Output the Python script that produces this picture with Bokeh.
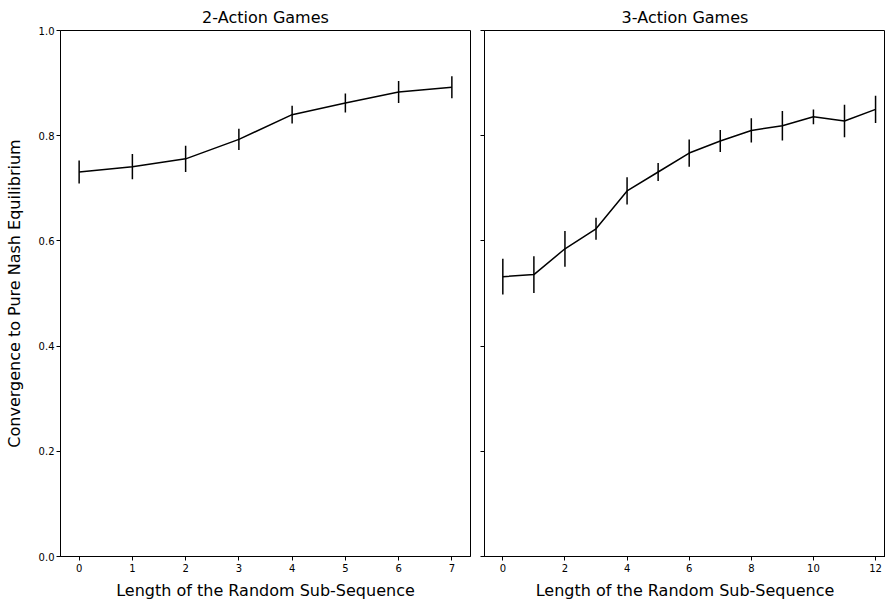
from bokeh.plotting import figure
from bokeh.layouts import row
from bokeh.models import Range1d, FixedTicker, CustomJSTickFormatter
from bokeh.embed import file_html
from bokeh.resources import INLINE

# ---- data ----
x2 = [0, 1, 2, 3, 4, 5, 6, 7]
y2 = [0.731, 0.741, 0.756, 0.793, 0.840, 0.862, 0.883, 0.892]
e2 = [0.022, 0.024, 0.025, 0.020, 0.017, 0.018, 0.021, 0.021]

x3 = [0, 1, 2, 3, 4, 5, 6, 7, 8, 9, 10, 11, 12]
y3 = [0.532, 0.536, 0.585, 0.623, 0.695, 0.731, 0.767, 0.790, 0.810, 0.819, 0.836, 0.828, 0.850]
e3 = [0.034, 0.035, 0.034, 0.021, 0.026, 0.017, 0.026, 0.021, 0.023, 0.028, 0.014, 0.031, 0.026]

titles = ["2-Action Games", "3-Action Games"]
x_label = "Length of the Random Sub-Sequence"
y_label = "Convergence to Pure Nash Equilibrium"
y_ticks = [0.0, 0.2, 0.4, 0.6, 0.8, 1.0]
y_tick_labels = ["0.0", "0.2", "0.4", "0.6", "0.8", "1.0"]
x2_ticks = [0, 1, 2, 3, 4, 5, 6, 7]
x3_ticks = [0, 2, 4, 6, 8, 10, 12]

FONT = "DejaVu Sans"


def make_panel(title, xs, ys, es, xticks, xr, fw, left, right, show_ylabels):
    p = figure(frame_width=fw, frame_height=526, output_backend="svg",
               toolbar_location=None, x_range=xr, y_range=Range1d(0, 1),
               min_border_top=30, min_border_left=left, min_border_right=right,
               min_border_bottom=0)
    p.title.text = title
    p.title.align = "center"
    p.title.text_font = FONT
    p.title.text_font_size = "16px"
    p.title.text_font_style = "normal"
    p.title.text_color = "black"
    p.title.offset = 0
    p.title.standoff = 8
    p.xgrid.visible = False
    p.ygrid.visible = False
    p.outline_line_color = "black"
    p.outline_line_width = 1
    p.background_fill_color = "white"
    p.border_fill_color = "white"

    for ax in (p.xaxis[0], p.yaxis[0]):
        ax.axis_line_color = "black"
        ax.major_tick_line_color = "black"
        ax.minor_tick_line_color = None
        ax.major_tick_in = 0
        ax.major_tick_out = 4
        ax.major_label_text_font = FONT
        ax.major_label_text_font_size = "10px"
        ax.major_label_text_color = "black"
        ax.axis_label_text_font = FONT
        ax.axis_label_text_font_size = "16px"
        ax.axis_label_text_font_style = "normal"
        ax.axis_label_text_color = "black"

    p.xaxis.ticker = FixedTicker(ticks=xticks)
    p.xaxis.major_label_standoff = 3
    p.xaxis.axis_label = x_label
    p.xaxis.axis_label_standoff = 6

    p.yaxis.ticker = FixedTicker(ticks=y_ticks)
    if show_ylabels:
        p.yaxis.major_label_overrides = {t: l for t, l in zip(y_ticks, y_tick_labels)}
        p.yaxis.major_label_standoff = 2
        p.yaxis.axis_label = y_label
        p.yaxis.axis_label_standoff = 12
    else:
        p.yaxis.formatter = CustomJSTickFormatter(code="return '';")
        p.yaxis.major_label_standoff = 0

    lower = [y - e for y, e in zip(ys, es)]
    upper = [y + e for y, e in zip(ys, es)]
    p.line(xs, ys, line_color="black", line_width=1.5)
    p.segment(x0=xs, y0=lower, x1=xs, y1=upper, line_color="black", line_width=1.5)
    return p


p1 = make_panel(titles[0], x2, y2, e2, x2_ticks, Range1d(-0.35, 7.35), 410, 60, 6, True)
p2 = make_panel(titles[1], x3, y3, e3, x3_ticks, Range1d(-0.59, 12.32), 401, 8, 0, False)

layout = row(p1, p2, spacing=0)
open("out.html", "w").write(file_html(layout, INLINE))
